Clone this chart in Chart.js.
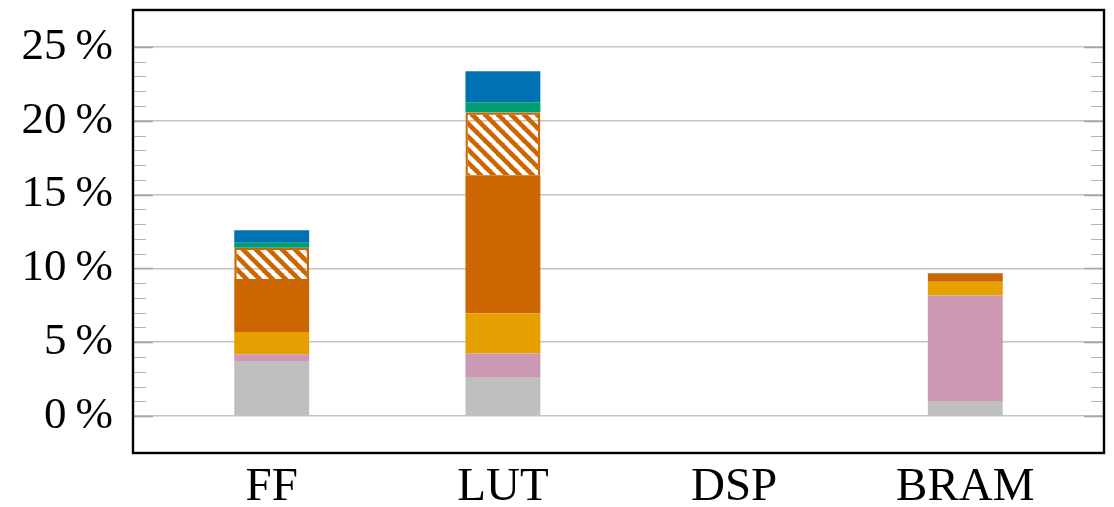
<!DOCTYPE html>
<html>
<head>
<meta charset="utf-8">
<script src="https://cdn.jsdelivr.net/npm/chart.js@4/dist/chart.umd.min.js"></script>
<style>
  html, body { margin: 0; padding: 0; background: #fff; }
  #wrap { width: 1114px; height: 507px; position: relative; }
</style>
</head>
<body>
<div id="wrap"><canvas id="c"></canvas></div>
<script>
// Resource utilisation per FPGA resource type (percent of device), stacked by part
const categories = ['FF', 'LUT', 'DSP', 'BRAM'];
const partGrey    = [3.68, 2.59, 0, 1.02];
const partPink    = [0.50, 1.65, 0, 7.15];
const partYellow  = [1.51, 2.73, 0, 0.92];
const partOrange  = [3.60, 9.34, 0, 0.59];
const partHatched = [2.11, 4.25, 0, 0];
const partTeal    = [0.34, 0.70, 0, 0];
const partBlue    = [0.85, 2.10, 0, 0];

const yMajorTicks = [0, 5, 10, 15, 20, 25];
const yMinorTicks = [1, 2, 3, 4, 6, 7, 8, 9, 11, 12, 13, 14, 16, 17, 18, 19, 21, 22, 23, 24];

const ORANGE = '#cc6600';
const SERIF = '"Liberation Serif", "DejaVu Serif", serif';

// Diagonal hatch: orange fill with see-through "\" stripes
function makeHatch(color) {
  const p = 13;
  const tile = document.createElement('canvas');
  tile.width = p; tile.height = p;
  const t = tile.getContext('2d');
  t.fillStyle = color;
  t.fillRect(0, 0, p, p);
  t.globalCompositeOperation = 'destination-out';
  t.lineWidth = 4.6;
  t.beginPath();
  for (const dx of [-p, 0, p]) {
    t.moveTo(dx - 1, -1);
    t.lineTo(dx + p + 1, p + 1);
  }
  t.stroke();
  return t.createPattern(tile, 'repeat');
}

const toPoints = arr => arr.map((v, i) => ({ x: i, y: v }));
const noSliver = c => (c.raw && c.raw.y === 0 ? 0 : 'auto');

function series(label, values, color, extra) {
  return Object.assign({
    label,
    data: toPoints(values),
    backgroundColor: color,
    borderWidth: 0,
    inflateAmount: noSliver
  }, extra || {});
}

// Frame with inward tick marks on both vertical sides
const framePlugin = {
  id: 'frame',
  afterDatasetsDraw(chart) {
    const { ctx, chartArea: a, scales: { y } } = chart;
    ctx.save();
    ctx.lineCap = 'butt';
    const mark = (v, len, color, w) => {
      const py = Math.round(y.getPixelForValue(v)) + 0.5;
      ctx.strokeStyle = color;
      ctx.lineWidth = w;
      ctx.beginPath();
      ctx.moveTo(a.left, py); ctx.lineTo(a.left + len, py);
      ctx.moveTo(a.right, py); ctx.lineTo(a.right - len, py);
      ctx.stroke();
    };
    yMinorTicks.forEach(v => mark(v, 13, '#b4b4b4', 1.2));
    yMajorTicks.forEach(v => mark(v, 20, '#a4a4a4', 1.6));
    ctx.strokeStyle = '#000';
    ctx.lineWidth = 2.4;
    ctx.strokeRect(a.left, a.top, a.right - a.left, a.bottom - a.top);
    ctx.restore();
  }
};

new Chart(document.getElementById('c'), {
  type: 'bar',
  data: {
    datasets: [
      series('Grey', partGrey, '#bfbfbf'),
      series('Pink', partPink, '#cc99b3'),
      series('Yellow', partYellow, '#e69f00'),
      series('Orange', partOrange, ORANGE),
      series('Orange (hatched)', partHatched, makeHatch(ORANGE), {
        borderColor: ORANGE,
        borderWidth: 2.3,
        borderSkipped: 'start'
      }),
      series('Teal', partTeal, '#009e73'),
      series('Blue', partBlue, '#0072b2')
    ]
  },
  options: {
    responsive: true,
    maintainAspectRatio: false,
    animation: false,
    devicePixelRatio: 1,
    layout: { padding: { top: 10, right: 10, left: 0, bottom: 0 } },
    plugins: { legend: { display: false }, tooltip: { enabled: false } },
    datasets: { bar: { categoryPercentage: 1, barPercentage: 0.324 } },
    scales: {
      x: {
        type: 'linear',
        stacked: true,
        offset: false,
        min: -0.6,
        max: 3.6,
        afterBuildTicks: s => { s.ticks = categories.map((_, i) => ({ value: i })); },
        afterFit: s => {
          s.height = 54;
          s.paddingLeft = 0; s.paddingRight = 0;
        },
        grid: { display: false, drawTicks: false, offset: false },
        border: { display: false },
        ticks: {
          autoSkip: false,
          maxRotation: 0,
          padding: 6,
          color: '#000',
          font: { family: SERIF, size: 47 },
          callback: v => categories[v]
        }
      },
      y: {
        stacked: true,
        min: -2.5,
        max: 27.5,
        afterBuildTicks: s => { s.ticks = yMajorTicks.map(v => ({ value: v })); },
        afterFit: s => {
          s.width = 133;
          s.paddingTop = 0; s.paddingBottom = 0;
        },
        grid: { color: '#c4c4c4', lineWidth: 1.6, drawTicks: false },
        border: { display: false },
        ticks: {
          padding: 20,
          color: '#000',
          font: { family: SERIF, size: 45 },
          callback: v => v + '\u2009%'
        }
      }
    }
  },
  plugins: [framePlugin]
});
</script>
</body>
</html>
